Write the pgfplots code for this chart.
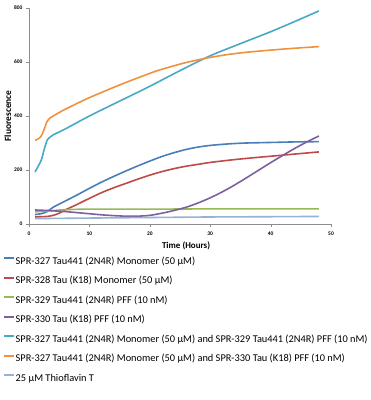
\documentclass[border=0pt]{standalone}
\usepackage{pgfplots}
\pgfplotsset{compat=1.18}
\usepackage{fontspec}
\setmainfont{Carlito}
\definecolor{c1}{HTML}{4A7EBB}
\definecolor{c2}{HTML}{BE4B48}
\definecolor{c3}{HTML}{98B954}
\definecolor{c4}{HTML}{7D60A0}
\definecolor{c5}{HTML}{46AAC5}
\definecolor{c6}{HTML}{F0913F}
\definecolor{c7}{HTML}{95B3D7}
\begin{document}
\begin{tikzpicture}
\path[use as bounding box] (0,0) rectangle (371bp,400bp);
\begin{axis}[
  at={(29bp,176bp)}, anchor=south west,
  scale only axis, width=302bp, height=216bp,
  xmin=0, xmax=50, ymin=0, ymax=800,
  xtick={0,10,...,50}, ytick={0,200,...,800},
  axis x line*=bottom, axis y line*=left,
  axis line style={black!45},
  tick style={black!45}, tick align=outside, major tick length=3bp,
  tick label style={font=\fontsize{5.5}{6}\selectfont\bfseries},
  /pgf/number format/assume math mode=true,
  xticklabel style={yshift=-1bp},
  xlabel={Time (Hours)}, ylabel={Fluorescence},
  xlabel style={font=\fontsize{9}{10}\selectfont\bfseries, at={(axis description cs:0.52,-0.10)}, anchor=center},
  ylabel style={font=\fontsize{9.5}{10}\selectfont\bfseries, at={(axis description cs:-0.07,0.5)}, anchor=center},
  every axis plot/.append style={line width=1.6bp, smooth},
  legend cell align=left,
  legend style={at={(axis description cs:-0.086,-0.144)}, anchor=north west, draw=none, fill=none,
    font=\fontsize{10.4}{12}\selectfont, row sep=7.5bp, inner xsep=0pt, inner ysep=0pt,
    nodes={inner xsep=0.5bp, inner ysep=0bp, text height=9bp, text depth=3bp}},
  legend image code/.code={\draw[#1,line width=2bp] (0bp,3.3bp) -- (10bp,3.3bp);},
]
\addplot[c1] coordinates {(1,35)(2,38)(3,46)(4,62)(6,85)(8,108)(10,132)(12,155)(14,176)(16,196)(18,215)(20,233)(22,250)(24,264)(26,276)(28,285)(30,291)(32,295)(34,298)(36,300)(40,302)(44,304)(48,305)};
\addlegendentry{SPR-327 Tau441 (2N4R) Monomer (50 μM)}
\addplot[c2] coordinates {(1,26)(2,27)(3,28)(4,32)(5,40)(6,52)(8,73)(10,95)(12,116)(14,134)(16,150)(18,166)(20,181)(22,194)(24,205)(26,214)(28,221)(30,228)(33,236)(36,243)(40,251)(44,259)(48,267)};
\addlegendentry{SPR-328 Tau (K18) Monomer (50 μM)}
\addplot[c3] coordinates {(1,45)(3,48)(6,53)(10,55)(20,55)(30,56)(40,56)(48,56)};
\addlegendentry{SPR-329 Tau441 (2N4R) PFF (10 nM)}
\addplot[c4] coordinates {(1,52)(3,50)(6,46)(8,42)(10,38)(12,34)(14,31)(16,29)(18,29)(20,32)(22,40)(24,50)(26,62)(28,78)(30,97)(32,119)(34,144)(36,171)(38,199)(40,227)(42,254)(44,280)(46,304)(48,326)};
\addlegendentry{SPR-330 Tau (K18) PFF (10 nM)}
\addplot[c5] coordinates {(1,193)(2,235)(2.5,275)(3,310)(3.5,322)(4,330)(6,352)(10,400)(15,455)(20,510)(25,568)(30,623)(35,668)(40,712)(44,750)(48,789)};
\addlegendentry{SPR-327 Tau441 (2N4R) Monomer (50 μM) and SPR-329 Tau441 (2N4R) PFF (10 nM)}
\addplot[c6] coordinates {(1,310)(1.5,315)(2,325)(2.5,350)(3,380)(3.5,393)(4,400)(6,425)(10,468)(15,515)(20,558)(22,573)(24,586)(26,598)(28,608)(30,617)(33,628)(36,636)(40,644)(44,651)(48,657)};
\addlegendentry{SPR-327 Tau441 (2N4R) Monomer (50 μM) and SPR-330 Tau (K18) PFF (10 nM)}
\addplot[c7] coordinates {(1,20)(10,22)(20,24)(30,26)(40,27)(48,28)};
\addlegendentry{25 μM Thioflavin T}
\end{axis}
\end{tikzpicture}
\end{document}
